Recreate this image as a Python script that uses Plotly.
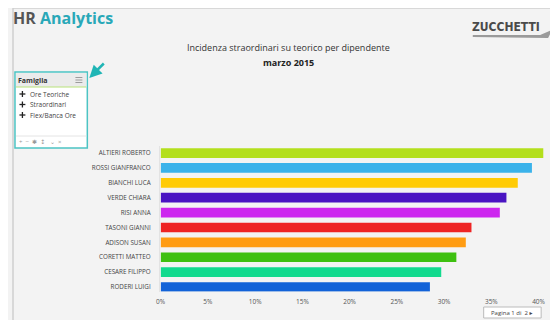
import plotly.graph_objects as go

# browser body margin is 8px: figure occupies (8,8)-(558,320) of the window
OFF = 8
W, H = 558 - OFF, 320 - OFF

employees = ["ALTIERI ROBERTO", "ROSSI GIANFRANCO", "BIANCHI LUCA", "VERDE CHIARA", "RISI ANNA",
             "TASONI GIANNI", "ADISON SUSAN", "CORETTI MATTEO", "CESARE FILIPPO", "RODERI LUIGI"]
incidence_pct = [40.5, 39.3, 37.8, 36.6, 35.9, 32.9, 32.3, 31.3, 29.7, 28.5]
bar_colors = ["#b3df1c", "#3ab2ea", "#ffcb05", "#4a14c2", "#cd26ef",
              "#ee2424", "#ff9c12", "#3ec010", "#12da8e", "#1262d8"]
x_ticks = [0, 5, 10, 15, 20, 25, 30, 35, 40]
x_tick_labels = [f"{t}%" for t in x_ticks]
family_items = ["Ore Teoriche", "Straordinari", "Flex/Banca Ore"]


def px(x):
    return (x - OFF) / W


def py(y):
    return 1 - (y - OFF) / H


FONT = "Open Sans, DejaVu Sans, sans-serif"

fig = go.Figure()
fig.add_trace(go.Bar(
    y=employees, x=incidence_pct, orientation="h",
    marker=dict(color=bar_colors, line=dict(width=0)),
    width=0.65, hoverinfo="x+y",
))

shapes = []
annotations = []

# panel border (top and left edges)
shapes.append(dict(type="line", xref="paper", yref="paper", x0=0, x1=1, y0=1, y1=1,
                   line=dict(color="#cfcfcf", width=1.5)))
shapes.append(dict(type="line", xref="paper", yref="paper", x0=0, x1=0, y0=0, y1=1,
                   line=dict(color="#cfcfcf", width=1.5)))

# HR Analytics
annotations.append(dict(xref="paper", yref="paper", x=px(6), y=py(18), xanchor="left", yanchor="middle",
                        showarrow=False,
                        text="<b><span style='color:#555555'>HR</span> <span style='color:#29a8b8'>Analytics</span></b>",
                        font=dict(family=FONT, size=16)))

# Zucchetti logo
annotations.append(dict(xref="paper", yref="paper", x=px(469), y=py(27), xanchor="left", yanchor="middle",
                        showarrow=False, text="<b>ZUCCHETTI</b>",
                        font=dict(family="DejaVu Sans Condensed, DejaVu Sans, sans-serif", size=12, color="#4a4a4a")))
shapes.append(dict(type="path", xref="paper", yref="paper",
                   path=f"M {px(472)},{py(35)} L {px(540)},{py(35)} L {px(552)},{py(30)} L {px(548)},{py(38)} L {px(472)},{py(37)} Z",
                   fillcolor="#9a9a9a", line=dict(width=0)))

# chart titles
annotations.append(dict(xref="paper", yref="paper", x=px(286), y=py(47), xanchor="center", yanchor="middle",
                        showarrow=False, text="Incidenza straordinari su teorico per dipendente",
                        font=dict(family=FONT, size=9, color="#333333")))
annotations.append(dict(xref="paper", yref="paper", x=px(286), y=py(62), xanchor="center", yanchor="middle",
                        showarrow=False, text="<b>marzo 2015</b>",
                        font=dict(family=FONT, size=9, color="#222222")))

# Famiglia panel
shapes.append(dict(type="rect", xref="paper", yref="paper", x0=px(10), x1=px(83), y0=py(72), y1=py(148),
                   fillcolor="#ffffff", line=dict(color="#4cc4c4", width=1.5)))
shapes.append(dict(type="rect", xref="paper", yref="paper", x0=px(11), x1=px(82), y0=py(73), y1=py(87),
                   fillcolor="#ebebeb", line=dict(width=0)))
shapes.append(dict(type="line", xref="paper", yref="paper", x0=px(11), x1=px(82), y0=py(87), y1=py(87),
                   line=dict(color="#b8e27a", width=1)))
annotations.append(dict(xref="paper", yref="paper", x=px(11), y=py(80), xanchor="left", yanchor="middle",
                        showarrow=False, text="<b>Famiglia</b>",
                        font=dict(family=FONT, size=7, color="#333333")))
for yy in (77.5, 80, 82.5):
    shapes.append(dict(type="line", xref="paper", yref="paper", x0=px(71), x1=px(78), y0=py(yy), y1=py(yy),
                       line=dict(color="#888888", width=0.8)))
for i, item in enumerate(family_items):
    yy = 94 + i * 10.5
    shapes.append(dict(type="line", xref="paper", yref="paper", x0=px(14.5), x1=px(20.5), y0=py(yy), y1=py(yy),
                       line=dict(color="#222222", width=1.3)))
    shapes.append(dict(type="line", xref="paper", yref="paper", x0=px(17.5), x1=px(17.5), y0=py(yy - 3), y1=py(yy + 3),
                       line=dict(color="#222222", width=1.3)))
    annotations.append(dict(xref="paper", yref="paper", x=px(24), y=py(yy), xanchor="left", yanchor="middle",
                            showarrow=False, borderpad=0, text=item,
                            font=dict(family=FONT, size=6.5, color="#444444")))
shapes.append(dict(type="line", xref="paper", yref="paper", x0=px(11), x1=px(82), y0=py(136), y1=py(136),
                   line=dict(color="#e4e4e4", width=1)))
annotations.append(dict(xref="paper", yref="paper", x=px(12), y=py(142), xanchor="left", yanchor="middle",
                        showarrow=False, text="+  −  ✱  ↕   ⌄  ×",
                        font=dict(family=FONT, size=6, color="#999999")))

# teal arrow
annotations.append(dict(xref="paper", yref="paper", x=px(85), y=py(78), ax=16, ay=-16,
                        showarrow=True, arrowhead=2, arrowsize=1,
                        arrowwidth=2.5, arrowcolor="#1fb5b5", text=""))

# Pagina box
shapes.append(dict(type="rect", xref="paper", yref="paper", x0=px(483), x1=px(541), y0=py(307), y1=py(318),
                   fillcolor="#ffffff", line=dict(color="#bbbbbb", width=1)))
annotations.append(dict(xref="paper", yref="paper", x=px(512), y=py(312.5), xanchor="center", yanchor="middle",
                        showarrow=False, borderpad=0, text="Pagina 1 di  2 ▸",
                        font=dict(family=FONT, size=6, color="#444444")))

shapes.append(dict(type="line", xref="paper", yref="paper", x0=px(156), x1=px(156), y0=py(146), y1=py(292),
                   line=dict(color="#e0e0e0", width=1)))

fig.update_layout(
    width=W, height=H,
    margin=dict(l=0, r=0, t=0, b=0),
    paper_bgcolor="#f3f3f3",
    plot_bgcolor="rgba(0,0,0,0)",
    showlegend=False,
    font=dict(family=FONT, size=6, color="#444444"),
    xaxis=dict(domain=[px(157), px(546)], range=[0, 40.8], tickvals=x_ticks, ticktext=x_tick_labels,
               showgrid=False, zeroline=False, showline=False, ticks="", ticklabelstandoff=5,
               tickfont=dict(size=6.5, color="#555555"), fixedrange=True),
    yaxis=dict(domain=[py(291.5), py(145.6)], range=[9.3, -0.5], autorange=False,
               categoryorder="array", categoryarray=employees,
               showgrid=False, zeroline=False, showline=False, ticks="",
               ticklabelstandoff=9, tickfont=dict(size=6.3, color="#444444"), fixedrange=True),
    shapes=shapes,
    annotations=annotations,
    bargap=0.35,
)

fig.write_html("out.html")
